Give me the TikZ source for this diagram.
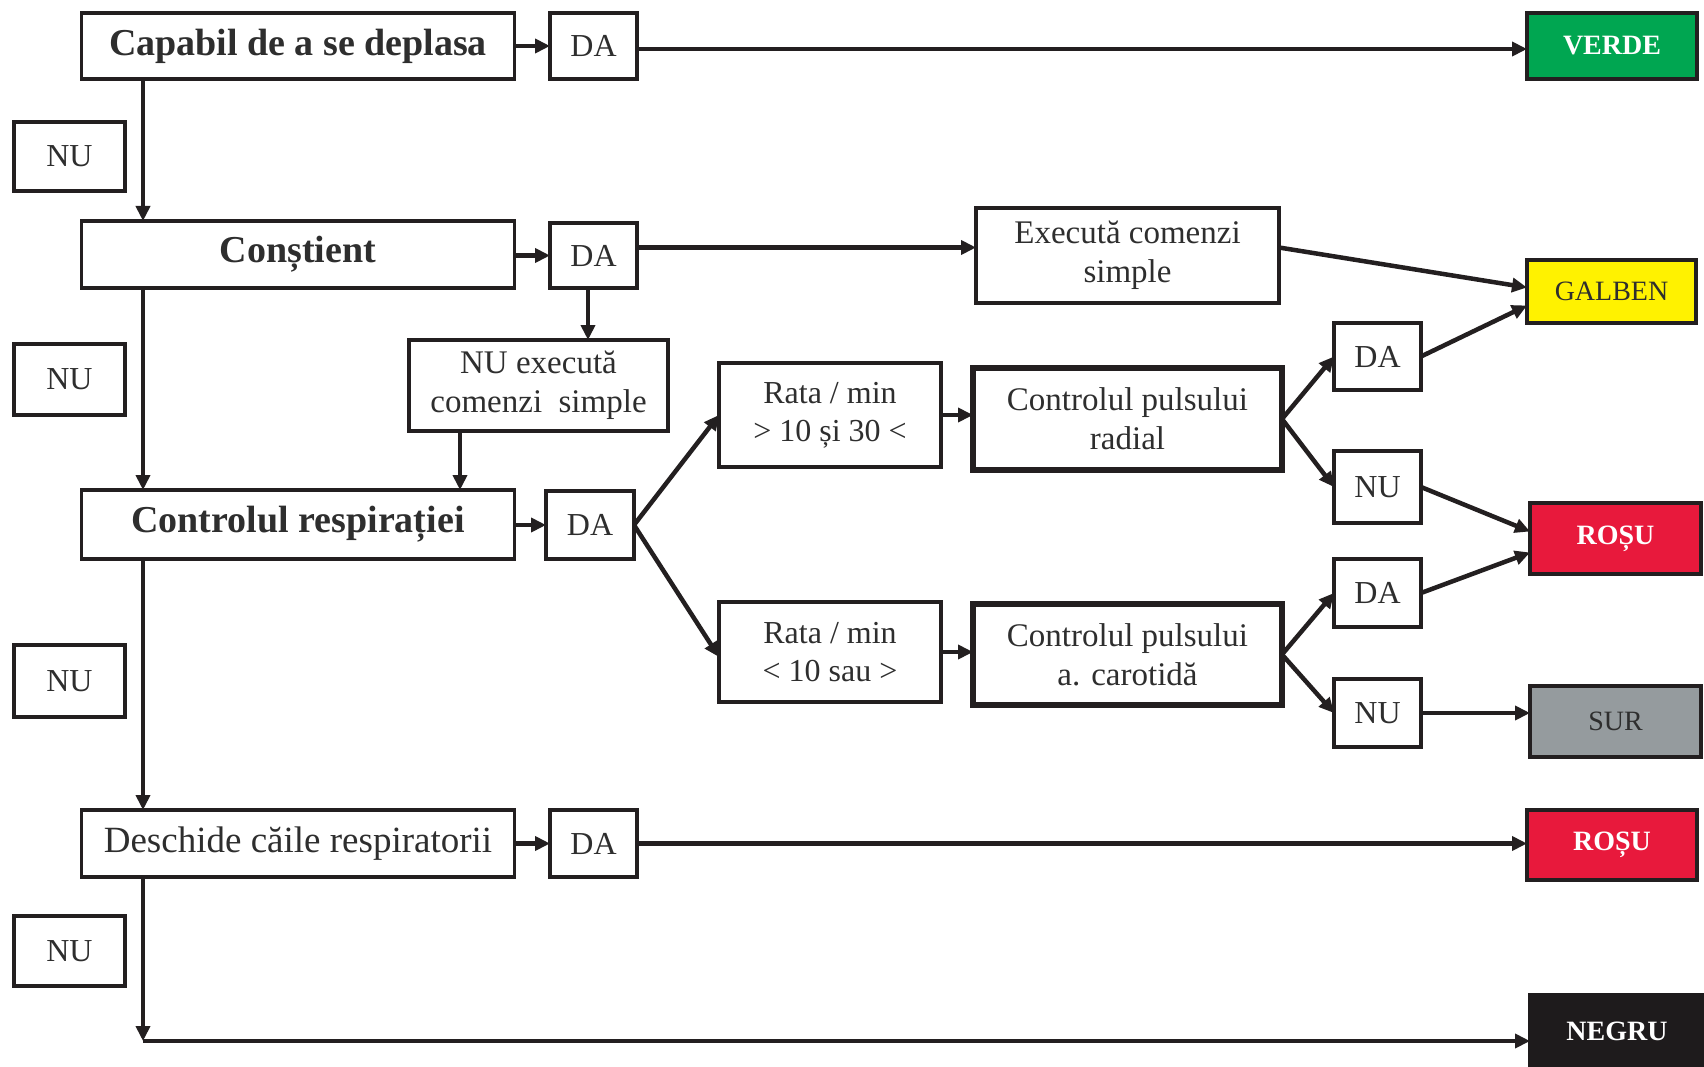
\documentclass[tikz,border=0pt]{standalone}
\usepackage{fontspec}
\setmainfont{Liberation Serif}
\usetikzlibrary{arrows.meta}
\definecolor{ink}{HTML}{231F20}
\definecolor{txt}{HTML}{2E2E2E}
\definecolor{cverde}{HTML}{00A651}
\definecolor{cgalben}{HTML}{FFF200}
\definecolor{crosu}{HTML}{E8193C}
\definecolor{csur}{HTML}{959B9E}
\definecolor{cnegru}{HTML}{1E1B1C}
\begin{document}
\begin{tikzpicture}[x=1pt,y=-1pt,
  box/.style={draw=ink, line width=3.5pt, inner sep=0pt, outer sep=0pt, text=txt, align=center,
    font=\fontsize{33}{39}\selectfont},
  thickbox/.style={box, line width=6.5pt},
  lab/.style={box, minimum width=87pt, font=\fontsize{32}{38}\selectfont},
  nulab/.style={box, minimum width=111pt, font=\fontsize{32}{38}\selectfont},
  mainbox/.style={box, minimum width=433pt, font=\fontsize{38}{44}\selectfont\bfseries},
  plainmain/.style={box, minimum width=433pt, font=\fontsize{37}{44}\selectfont},
  res/.style={draw=ink, line width=3.5pt, inner sep=0pt, outer sep=0pt, text=white,
    font=\fontsize{28}{32}\selectfont\bfseries},
  arr/.style={draw=ink, line width=4.5pt, -{Triangle[length=15pt,width=14pt]}}
]
\useasboundingbox[fill=white] (0,0) rectangle (1704,1067);

% left column
\node[mainbox, minimum height=66pt] (cap) at (298,46) {Capabil de a se deplasa};
\node[mainbox, minimum height=67pt] (cons) at (298,254.5) {Conștient};
\node[mainbox, minimum height=69pt] (resp) at (298,524.5) {Controlul respirației};
\node[plainmain, minimum height=67pt] (desch) at (298,843.5) {Deschide căile respiratorii};

\node[nulab, minimum height=69pt] (nu1) at (69.5,156.5) {NU};
\node[nulab, minimum height=71pt] (nu2) at (69.5,379.5) {NU};
\node[nulab, minimum height=72pt] (nu4) at (69.5,681) {NU};
\node[nulab, minimum height=70pt] (nu6) at (69.5,951) {NU};

% DA boxes
\node[lab, minimum height=66pt] (da1) at (593.5,46) {DA};
\node[lab, minimum height=65pt] (da2) at (593.5,255.5) {DA};
\node[lab, minimum width=88pt, minimum height=68pt] (da4) at (590,525) {DA};
\node[lab, minimum height=67pt] (da6) at (593.5,843.5) {DA};

% middle
\node[box, minimum width=303pt, minimum height=95pt] (exec) at (1127.5,255.5) {Execută comenzi\\simple};
\node[box, minimum width=259pt, minimum height=91pt] (nuexec) at (538.5,385.5) {NU execută\\comenzi\ \ simple};
\node[box, minimum width=222pt, minimum height=104pt, font=\fontsize{32}{38}\selectfont] (rata1) at (830,415) {Rata / min\\> 10 și 30 <};
\node[box, minimum width=222pt, minimum height=100pt, font=\fontsize{32}{38}\selectfont] (rata2) at (830,652) {Rata / min\\< 10 sau >};
\node[thickbox, minimum width=309pt, minimum height=102pt] (radial) at (1127.5,419) {Controlul pulsului\\radial};
\node[thickbox, minimum width=309pt, minimum height=101pt] (carot) at (1127.5,654.5) {Controlul pulsului\\a. carotidă};

% right DA/NU
\node[lab, minimum height=67pt] (da3) at (1377.5,356.5) {DA};
\node[lab, minimum height=72pt] (nu3) at (1377.5,487) {NU};
\node[lab, minimum height=68pt] (da5) at (1377.5,593) {DA};
\node[lab, minimum height=68pt] (nu5) at (1377.5,713) {NU};

% results
\node[res, fill=cverde, minimum width=170pt, minimum height=66pt] (verde) at (1612,46) {VERDE};
\node[res, fill=cgalben, text=txt, font=\fontsize{28}{32}\selectfont, minimum width=169pt, minimum height=63pt] (galben) at (1611.5,291.5) {GALBEN};
\node[res, fill=crosu, minimum width=171pt, minimum height=71pt] (rosu1) at (1615.5,538.5) {ROȘU};
\node[res, fill=csur, text=txt, font=\fontsize{28}{32}\selectfont, minimum width=171pt, minimum height=71pt] (sur) at (1615.5,721.5) {SUR};
\node[res, fill=crosu, minimum width=170pt, minimum height=70pt] (rosu2) at (1612,845) {ROȘU};
\node[res, fill=cnegru, draw=cnegru, minimum width=174pt, minimum height=72pt] (negru) at (1617,1031) {NEGRU};

% coordinates
\coordinate (vx) at (143,0);
\coordinate (corner) at (143,1041);

% connectors: main spine
\draw[arr] (cap.south -| vx) -- (cons.north -| vx);
\draw[arr] (cons.south -| vx) -- (resp.north -| vx);
\draw[arr] (resp.south -| vx) -- (desch.north -| vx);
\draw[arr] (desch.south -| vx) -- (corner);
\draw[arr] (corner) -- (corner -| negru.west);

% row 1
\draw[arr] (cap.east) -- (cap.east -| da1.west);
\draw[arr] ([yshift=-3pt]da1.east) -- ([yshift=-3pt]da1.east -| verde.west);

% row 2
\draw[arr] (da2.west -| cons.east) -- (da2.west);
\draw[arr] ([yshift=8pt]da2.east) -- ([yshift=8pt]da2.east -| exec.west);
\draw[arr] ([yshift=8pt]exec.east) -- ([yshift=4pt]galben.west);
\draw[arr] (da2.south -| 588,0) -- (nuexec.north -| 588,0);
\draw[arr] (nuexec.south -| 460,0) -- (resp.north -| 460,0);

% row 3
\draw[arr] (da4.west -| resp.east) -- (da4.west);
\draw[arr] (da4.east) -- (rata1.west);
\draw[arr] (da4.east) -- ([yshift=-5pt]rata2.west);
\draw[arr] (rata1.east) -- (rata1.east -| radial.west);
\draw[arr] (rata2.east) -- (rata2.east -| carot.west);
\draw[arr] (radial.east) -- (da3.west);
\draw[arr] (radial.east) -- (nu3.west);
\draw[arr] (carot.east) -- (da5.west);
\draw[arr] (carot.east) -- (nu5.west);
\draw[arr] (da3.east) -- ([yshift=-14pt]galben.west);
\draw[arr] (nu3.east) -- ([yshift=7pt]rosu1.west);
\draw[arr] (da5.east) -- ([yshift=-14pt]rosu1.west);
\draw[arr] (nu5.east) -- (nu5.east -| sur.west);

% row 4
\draw[arr] (desch.east) -- (desch.east -| da6.west);
\draw[arr] (da6.east) -- (da6.east -| rosu2.west);
\end{tikzpicture}
\end{document}
